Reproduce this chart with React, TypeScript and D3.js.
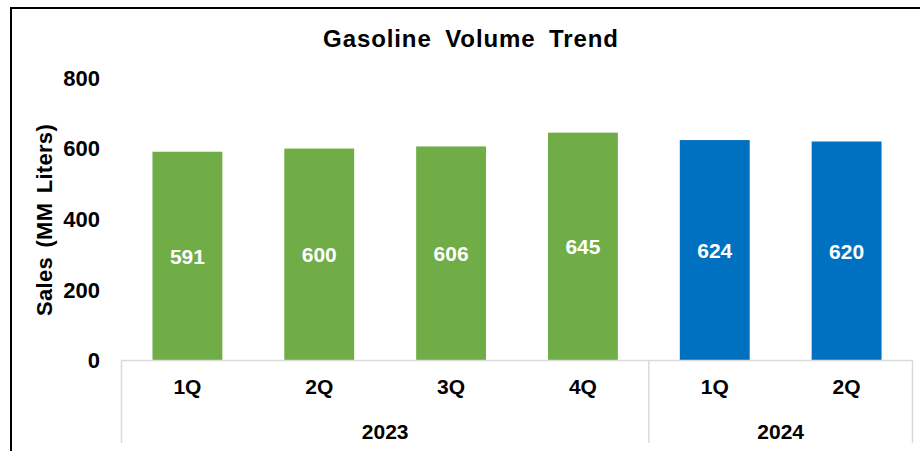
import React from "react";
import * as d3 from "d3";

const quarters = ["1Q", "2Q", "3Q", "4Q", "1Q", "2Q"];
const years = ["2023", "2023", "2023", "2023", "2024", "2024"];
const sales = [591, 600, 606, 645, 624, 620];
const yTicks = [0, 200, 400, 600, 800];
const yearGroups = ["2023", "2024"];
const colors: Record<string, string> = { "2023": "#70AD47", "2024": "#0070C0" };

export default function App() {
  const W = 920, H = 451;
  const left = 121.5, right = 912.5, top = 77.9, bottom = 360.5;
  const keys = sales.map((_, i) => String(i));
  const x = d3.scaleBand<string>().domain(keys).range([left, right]).paddingInner(0.47).paddingOuter(0.235);
  const step = (right - left) / sales.length;
  const y = d3.scaleLinear().domain([0, 800]).range([bottom, top]);
  const font = "'Liberation Sans', Arial, sans-serif";

  const groupBounds = yearGroups.map((g) => {
    const idx = years.map((yy, i) => (yy === g ? i : -1)).filter((i) => i >= 0);
    const x0 = left + step * idx[0];
    const x1 = left + step * (idx[idx.length - 1] + 1);
    return { g, x0, x1 };
  });
  const sepXs = [left, ...groupBounds.map((b) => b.x1)];

  return (
    <svg width={W} height={H} style={{ position: "absolute", left: 0, top: 0, background: "#fff" }}>
      <rect x={11} y={8} width={W} height={H} fill="#fff" stroke="#000" strokeWidth={2} />
      <text x={471} y={47} textAnchor="middle" fontFamily={font} fontWeight="bold" fontSize={24}
        wordSpacing={6} letterSpacing={0.9}>Gasoline Volume Trend</text>
      <text transform={`translate(52,220) rotate(-90)`} textAnchor="middle" fontFamily={font}
        fontWeight="bold" fontSize={22} wordSpacing={3} letterSpacing={0.3}>Sales (MM Liters)</text>
      {yTicks.map((t) => (
        <text key={t} x={100} y={y(t)} dy="0.36em" textAnchor="end" fontFamily={font} fontWeight="bold" fontSize={22}>
          {t}
        </text>
      ))}
      {sales.map((v, i) => (
        <g key={i}>
          <rect x={x(String(i))} y={y(v)} width={x.bandwidth()} height={y(0) - y(v)} fill={colors[years[i]]} />
          <text x={(x(String(i)) as number) + x.bandwidth() / 2} y={(y(v) + y(0)) / 2} dy="0.36em"
            textAnchor="middle" fill="#fff" fontFamily={font} fontWeight="bold" fontSize={21}>
            {v}
          </text>
          <text x={left + step * (i + 0.5)} y={386} dy="0.36em" textAnchor="middle" fontFamily={font}
            fontWeight="bold" fontSize={21}>{quarters[i]}</text>
        </g>
      ))}
      <line x1={left} x2={right} y1={bottom} y2={bottom} stroke="#d9d9d9" strokeWidth={1.5} />
      {sepXs.map((sx, i) => (
        <line key={i} x1={sx} x2={sx} y1={bottom} y2={443} stroke="#d9d9d9" strokeWidth={1.5} />
      ))}
      {groupBounds.map((b) => (
        <text key={b.g} x={(b.x0 + b.x1) / 2} y={431} dy="0.36em" textAnchor="middle" fontFamily={font}
          fontWeight="bold" fontSize={21}>{b.g}</text>
      ))}
    </svg>
  );
}
